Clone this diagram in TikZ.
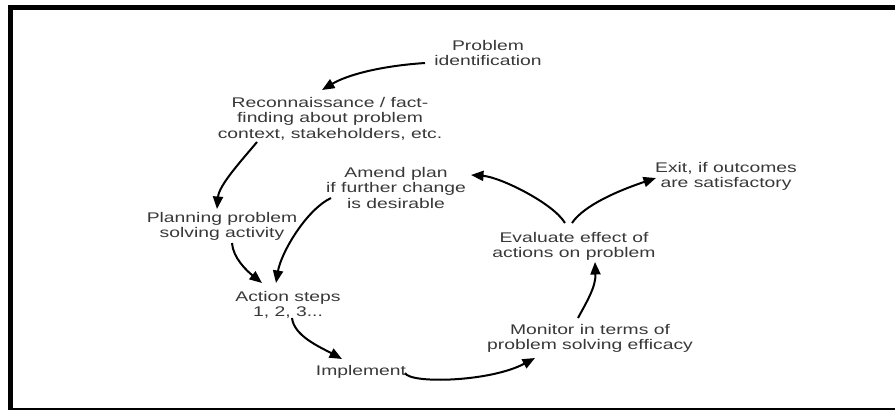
\documentclass[tikz,border=0pt]{standalone}
\usepackage{fontspec}
\setmainfont{Liberation Sans}[FakeStretch=1.38]
\usetikzlibrary{arrows.meta,calc}
\begin{document}
\begin{tikzpicture}[x=1pt,y=-1pt,
  lbl/.style={anchor=north,align=center,inner sep=0pt,text=black!78,
              font=\fontsize{14}{15.5}\selectfont},
  flow/.style={line width=2pt,-{Triangle[length=12.5pt,width=10pt]}}]
\useasboundingbox (0,0) rectangle (895,410);
% frame (open on the right)
\fill (7.5,5) rectangle (895,9.5);
\fill (7.5,5) rectangle (13,409);
\fill (7.5,407.8) rectangle (895,409.8);

% stages of the cycle
\node[lbl] (prob)  at (488,40)  {Problem\\identification};
\node[lbl] (recon) at (330,97)  {Reconnaissance / fact-\\finding about problem\\context, stakeholders, etc.};
\node[lbl] (amend) at (396,167) {Amend plan\\if further change\\is desirable};
\node[lbl] (exit)  at (726,162) {Exit, if outcomes\\are satisfactory};
\node[lbl] (plan)  at (222,212) {Planning problem\\solving activity};
\node[lbl] (eval)  at (574,232) {Evaluate effect of\\actions on problem};
\node[lbl] (act)   at (288,291) {Action steps\\1, 2, 3...};
\node[lbl] (mon)   at (590,324) {Monitor in terms of\\problem solving efficacy};
\node[lbl] (impl)  at (361,365) {Implement};

% curved connectors
\draw[flow] ($(prob.north)+(-63,23)$) .. controls ($(prob.north)+(-108,26)$) and ($(recon.north)+(17,-22)$) .. ($(recon.north)+(-8,-7)$);
\draw[flow] ($(recon.north)+(-73,45)$) .. controls ($(recon.north)+(-88,63)$) and ($(plan.north)+(-3,-27)$) .. ($(plan.north)+(-5,-3)$);
\draw[flow] ($(plan.north)+(10,31)$) .. controls ($(plan.north)+(11,46)$) and ($(act.north)+(-41,-20)$) .. ($(act.north)+(-26,-8)$);
\draw[flow] ($(amend.north)+(-65,31)$) .. controls ($(amend.north)+(-90,43)$) and ($(act.north)+(-7,-38)$) .. ($(act.north)+(-12,-8)$);
\draw[flow] ($(act.north)+(4,27)$) .. controls ($(act.north)+(6,45)$) and ($(impl.north)+(-41,-18)$) .. ($(impl.north)+(-19,-6)$);
\draw[flow] ($(impl.north)+(44,8)$) .. controls ($(impl.north)+(49,19)$) and ($(mon.north)+(-100,58)$) .. ($(mon.north)+(-55,34)$);
\draw[flow] ($(mon.north)+(-12,-6)$) .. controls ($(mon.north)+(-4,-21)$) and ($(eval.north)+(22,55)$) .. ($(eval.north)+(21,30)$);
\draw[flow] ($(eval.north)+(-9,-9)$) .. controls ($(eval.north)+(-21,-29)$) and ($(amend.north)+(104,10)$) .. ($(amend.north)+(75,8)$);
\draw[flow] ($(eval.north)+(-2,-9)$) .. controls ($(eval.north)+(10,-27)$) and ($(exit.north)+(-106,28)$) .. ($(exit.north)+(-70,16)$);
\end{tikzpicture}
\end{document}
